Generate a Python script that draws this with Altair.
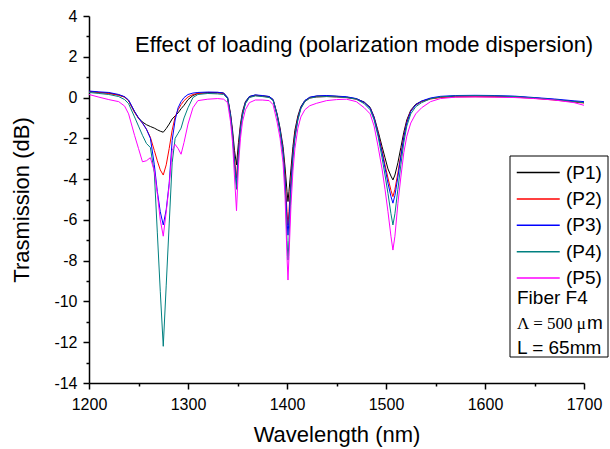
import altair as alt
import pandas as pd

# ---- data ----
wavelength = [1200, 1210, 1220, 1230, 1236,
              1240, 1246, 1250, 1254, 1258, 1262, 1266, 1269, 1272, 1275,
              1278, 1281, 1284, 1287, 1290, 1293, 1296, 1300, 1305, 1310,
              1320, 1330, 1336, 1340, 1343, 1345, 1347, 1349, 1351, 1353,
              1355, 1358, 1362, 1368, 1375, 1382,
              1386, 1390, 1393, 1396, 1398, 1400, 1401, 1402, 1404, 1406,
              1408, 1411, 1414, 1418, 1423, 1430, 1440, 1450, 1460, 1470,
              1478, 1484, 1488, 1492, 1496, 1499, 1502, 1505, 1507, 1509,
              1512, 1515, 1518, 1521, 1525, 1530, 1536, 1545, 1555, 1570,
              1590, 1610, 1630, 1650, 1670, 1690, 1700]

p1 = [0.30, 0.25, 0.22, 0.12, 0.03,
      -0.15, -0.70, -1.00, -1.20, -1.33, -1.42, -1.50, -1.58, -1.65, -1.70,
      -1.52, -1.30, -1.05, -0.90, -0.75, -0.55, -0.38, -0.10, 0.10, 0.20,
      0.25, 0.25, 0.22, 0.00, -0.80, -1.60, -2.60, -3.30, -2.20, -1.30,
      -0.70, -0.20, 0.05, 0.12, 0.08, 0.05,
      -0.10, -0.80, -1.50, -2.40, -3.40, -4.60, -5.10, -4.60, -3.50, -2.40,
      -1.60, -0.90, -0.45, -0.15, 0.00, 0.07, 0.08, 0.06, 0.02, -0.06,
      -0.22, -0.48, -0.95, -1.65, -2.40, -2.95, -3.50, -3.85, -4.04, -3.80,
      -3.20, -2.45, -1.70, -1.10, -0.62, -0.33, -0.18, -0.05, 0.02, 0.06,
      0.07, 0.06, 0.04, -0.02, -0.10, -0.20, -0.25]

p2 = [0.30, 0.25, 0.20, 0.12, 0.02,
      -0.15, -0.72, -1.02, -1.25, -1.55, -1.95, -2.60, -3.10, -3.55, -3.80,
      -3.30, -2.50, -1.60, -0.95, -0.60, -0.35, -0.15, 0.03, 0.15, 0.20,
      0.22, 0.22, 0.20, -0.05, -0.90, -1.80, -3.00, -3.95, -2.50, -1.45,
      -0.80, -0.25, 0.02, 0.10, 0.07, 0.02,
      -0.12, -0.85, -1.60, -2.60, -3.80, -5.60, -6.25, -5.60, -4.00, -2.70,
      -1.80, -1.00, -0.50, -0.20, -0.02, 0.03, 0.05, 0.03, 0.00, -0.08,
      -0.25, -0.52, -1.00, -1.75, -2.60, -3.30, -3.95, -4.55, -4.86, -4.50,
      -3.70, -2.80, -1.90, -1.20, -0.65, -0.37, -0.20, -0.07, 0.00, 0.03,
      0.04, 0.03, 0.02, -0.04, -0.12, -0.22, -0.27]

p3 = [0.32, 0.28, 0.25, 0.15, 0.04,
      -0.12, -0.68, -1.00, -1.25, -1.55, -2.00, -3.30, -4.60, -5.60, -6.25,
      -5.50, -4.20, -2.10, -1.10, -0.50, -0.20, 0.00, 0.15, 0.22, 0.25,
      0.27, 0.26, 0.22, 0.00, -0.90, -1.80, -3.20, -4.30, -2.70, -1.50,
      -0.85, -0.25, 0.05, 0.13, 0.10, 0.05,
      -0.10, -0.85, -1.60, -2.65, -4.00, -6.00, -6.75, -6.00, -4.20, -2.80,
      -1.90, -1.05, -0.50, -0.15, 0.02, 0.08, 0.10, 0.07, 0.04, -0.05,
      -0.24, -0.52, -1.00, -1.80, -2.70, -3.45, -4.20, -4.85, -5.18, -4.80,
      -3.90, -2.90, -1.95, -1.25, -0.68, -0.36, -0.17, -0.02, 0.06, 0.10,
      0.11, 0.10, 0.07, 0.00, -0.07, -0.16, -0.20]

p4 = [0.25, 0.20, 0.15, 0.05, -0.10,
      -0.30, -0.95, -1.40, -1.85, -2.25, -2.45, -3.70, -6.60, -9.50, -12.20,
      -9.20, -6.20, -3.20, -2.00, -1.75, -1.50, -1.00, -0.50, 0.00, 0.15,
      0.20, 0.18, 0.15, -0.05, -1.00, -1.90, -3.30, -4.50, -2.80, -1.60,
      -0.90, -0.30, 0.00, 0.08, 0.05, 0.00,
      -0.15, -0.90, -1.70, -2.80, -4.30, -7.00, -7.97, -7.00, -4.60, -3.00,
      -2.00, -1.10, -0.55, -0.20, -0.03, 0.03, 0.05, 0.03, 0.00, -0.08,
      -0.30, -0.60, -1.10, -1.90, -2.95, -3.80, -4.70, -5.70, -6.25, -5.70,
      -4.50, -3.30, -2.20, -1.40, -0.80, -0.45, -0.25, -0.06, 0.03, 0.08,
      0.09, 0.08, 0.05, -0.02, -0.10, -0.20, -0.25]

p5 = [0.15, 0.02, -0.10, -0.20, -0.42,
      -0.80, -1.85, -2.50, -3.15, -3.10, -2.95, -3.60, -4.70, -6.00, -6.80,
      -5.60, -4.30, -2.60, -2.30, -2.50, -2.78, -2.20, -1.30, -0.50, -0.15,
      -0.08, -0.05, -0.08, -0.25, -1.20, -2.20, -3.90, -5.55, -3.30, -2.00,
      -1.20, -0.60, -0.25, -0.12, -0.12, -0.15,
      -0.35, -1.20, -2.00, -3.20, -4.80, -7.80, -8.95, -7.80, -5.30, -3.60,
      -2.50, -1.50, -0.95, -0.60, -0.40, -0.28, -0.15, -0.10, -0.08, -0.20,
      -0.50, -0.80, -1.40, -2.40, -3.50, -4.50, -5.60, -6.80, -7.48, -6.80,
      -5.20, -3.90, -2.70, -1.90, -1.25, -0.80, -0.50, -0.20, -0.05, 0.02,
      0.03, 0.02, 0.00, -0.05, -0.12, -0.25, -0.38]

series_names = ["(P1)", "(P2)", "(P3)", "(P4)", "(P5)"]
series_values = [p1, p2, p3, p4, p5]
series_colors = ["#000000", "#FF0000", "#0000FF", "#008080", "#FF00FF"]

x_ticks = [1200, 1250, 1300, 1350, 1400, 1450, 1500, 1550, 1600, 1650, 1700]
y_ticks = list(range(-14, 5))

title_text = "Effect of loading (polarization mode dispersion)"
note_fiber = "Fiber F4"
note_period = "\u039b = 500 \u03bc"
note_period_unit = "m"
note_length = "L = 65mm"

rows = []
for name, vals in zip(series_names, series_values):
    for w, v in zip(wavelength, vals):
        rows.append({"wl": w, "db": v, "series": name})
df = pd.DataFrame(rows)

FONT = "Liberation Sans"
W, H = 495, 367

lines = alt.Chart(df).mark_line(strokeWidth=1).encode(
    x=alt.X("wl:Q",
            scale=alt.Scale(domain=[1200, 1700], nice=False, zero=False),
            axis=alt.Axis(values=x_ticks, title="Wavelength (nm)",
                          labelExpr="datum.value % 100 === 0 ? '' + datum.value : ''",
                          tickSize={"condition": {"test": "datum.value % 100 !== 0", "value": 3}, "value": 6},
                          labelPadding=7, titlePadding=12, labelFlush=False,
                          labelOverlap=False, grid=False)),
    y=alt.Y("db:Q",
            scale=alt.Scale(domain=[-14, 4], nice=False, zero=False),
            axis=alt.Axis(values=y_ticks, title="Trasmission (dB)",
                          labelExpr="datum.value % 2 === 0 ? '' + datum.value : ''",
                          tickSize={"condition": {"test": "datum.value % 2 !== 0", "value": 3}, "value": 6},
                          labelPadding=6, titlePadding=20, labelFlush=False,
                          labelOverlap=False, grid=False)),
    color=alt.Color("series:N", title=None,
                    scale=alt.Scale(domain=series_names, range=series_colors),
                    legend=alt.Legend(orient="none", legendX=427, legendY=145,
                                      symbolType="M-1,0H3", symbolSize=462,
                                      symbolStrokeWidth=1.5, labelFont=FONT,
                                      labelFontSize=19, labelColor="black",
                                      labelOffset=27, rowPadding=4.4, padding=0)),
    detail="series:N",
)

box = alt.Chart(pd.DataFrame({"k": [0]})).mark_rect(
    fill="white", stroke="black", strokeWidth=1
).encode(x=alt.value(421), x2=alt.value(519), y=alt.value(140), y2=alt.value(341))

def note(txt, x, y, size, font=FONT):
    return alt.Chart(pd.DataFrame({"t": [txt]})).mark_text(
        align="left", baseline="alphabetic", font=font, fontSize=size, color="black"
    ).encode(text="t:N", x=alt.value(x), y=alt.value(y))

title = note(title_text, 46, 36, 22)
n1 = note(note_fiber, 428, 288, 19)
n2 = note(note_period, 428, 313, 17, font="Liberation Serif")
n3 = note(note_period_unit, 498, 313, 19)
n4 = note(note_length, 428, 338, 19)

chart = alt.layer(lines, box, title, n1, n2, n3, n4).properties(
    width=W, height=H,
    autosize=alt.AutoSizeParams(type="none"),
    padding={"left": 89, "top": 16, "right": 26, "bottom": 66},
).configure_view(stroke="transparent").configure_axis(
    labelFont=FONT, labelFontSize=16, labelColor="black",
    titleFont=FONT, titleFontSize=22, titleFontWeight="normal", titleColor="black",
    domainColor="black", domainWidth=1.5, tickColor="black", tickWidth=1.5,
)

chart.save("out.html", embed_options={"renderer": "svg", "actions": False})
